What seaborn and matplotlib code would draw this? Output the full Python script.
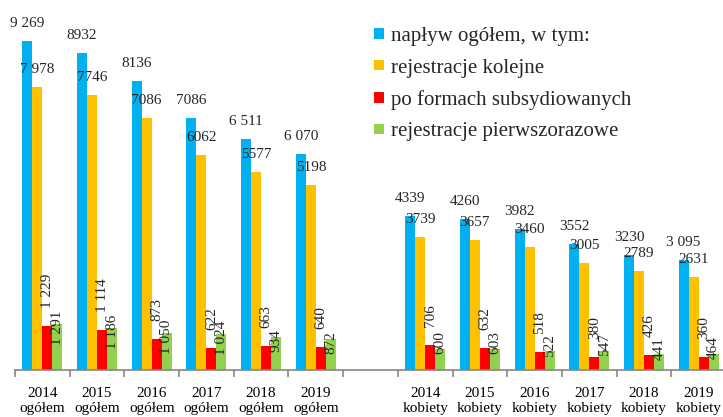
import numpy as np
import pandas as pd
import matplotlib
matplotlib.use("Agg")
import matplotlib.pyplot as plt
import seaborn as sns

years = ["2014", "2015", "2016", "2017", "2018", "2019"]
series = ["napływ ogółem, w tym:", "rejestracje kolejne",
          "po formach subsydiowanych", "rejestracje pierwszorazowe"]
colors = ["#00B0F0", "#FFC000", "#FF0000", "#92D050"]

ogolem_naplyw = [9269, 8932, 8136, 7086, 6511, 6070]
ogolem_kolejne = [7978, 7746, 7086, 6062, 5577, 5198]
ogolem_subs = [1229, 1114, 873, 622, 663, 640]
ogolem_pierw = [1291, 1186, 1050, 1024, 934, 872]
kob_naplyw = [4339, 4260, 3982, 3552, 3230, 3095]
kob_kolejne = [3739, 3657, 3460, 3005, 2789, 2631]
kob_subs = [706, 632, 518, 380, 426, 360]
kob_pierw = [600, 603, 522, 547, 441, 464]

ogolem_naplyw_lbl = ["9 269", "8932", "8136", "7086", "6 511", "6 070"]
ogolem_kolejne_lbl = ["7 978", "7746", "7086", "6062", "5577", "5198"]
ogolem_subs_lbl = ["1 229", "1 114", "873", "622", "663", "640"]
ogolem_pierw_lbl = ["1 291", "1 186", "1 050", "1 024", "934", "872"]
kob_naplyw_lbl = ["4339", "4260", "3982", "3552", "3230", "3 095"]
kob_kolejne_lbl = ["3739", "3657", "3460", "3005", "2789", "2631"]
kob_subs_lbl = ["706", "632", "518", "380", "426", "360"]
kob_pierw_lbl = ["600", "603", "522", "547", "441", "464"]

ogolem_cats = [f"{y}\nogółem" for y in years]
kob_cats = [f"{y}\nkobiety" for y in years]
order = ogolem_cats + [" "] + kob_cats

rows = []
groups = [
    (ogolem_cats, [ogolem_naplyw, ogolem_kolejne, ogolem_subs, ogolem_pierw],
     [ogolem_naplyw_lbl, ogolem_kolejne_lbl, ogolem_subs_lbl, ogolem_pierw_lbl]),
    (kob_cats, [kob_naplyw, kob_kolejne, kob_subs, kob_pierw],
     [kob_naplyw_lbl, kob_kolejne_lbl, kob_subs_lbl, kob_pierw_lbl]),
]
labels = {}
for cats, vals, lbls in groups:
    for s, v, l in zip(series, vals, lbls):
        for c, vv, ll in zip(cats, v, l):
            rows.append({"cat": c, "series": s, "value": vv})
            labels[(c, s)] = ll
df = pd.DataFrame(rows)

sns.set_theme(style="white")
plt.rcParams["font.family"] = ["Liberation Serif", "DejaVu Serif"]

W, H = 723, 417
fig = plt.figure(figsize=(W / 100, H / 100), dpi=100)
ax = fig.add_axes([15 / W, 47 / H, 711 / W, 370 / H])

sns.barplot(data=df, x="cat", y="value", hue="series", order=order,
            hue_order=series, palette=colors, width=0.73, gap=0,
            saturation=1, ax=ax, legend=True, linewidth=0)

ax.set_xlim(-0.5, 12.5)
ax.set_ylim(0, 10420)
ax.set_xlabel("")
ax.set_ylabel("")
ax.set_yticks([])
for sp in ["left", "right", "top"]:
    ax.spines[sp].set_visible(False)
ax.spines["bottom"].set_color("#868686")
ax.spines["bottom"].set_linewidth(1.2)

ax.set_xticks(range(len(order)))
ax.set_xticklabels(order, fontsize=11, color="black", linespacing=1.25)
ax.tick_params(axis="x", which="major", length=0, pad=12)
ax.set_xticks(np.arange(-0.5, 12.6, 1.0), minor=True)
ax.tick_params(axis="x", which="minor", length=5, width=1.2,
               color="#868686", direction="out", bottom=True)

for si, (s, cont) in enumerate(zip(series, ax.containers)):
    for bar in cont:
        h = bar.get_height()
        if not np.isfinite(h) or h == 0:
            continue
        xc = bar.get_x() + bar.get_width() / 2
        ci = int(round(xc))
        cat = order[ci]
        txt = labels.get((cat, s))
        if txt is None:
            continue
        if si < 2:
            ax.annotate(txt, (xc, h), xytext=(0, 11), textcoords="offset pixels",
                        ha="center", va="bottom", fontsize=11)
        elif si == 2:
            ax.annotate(txt, (xc, h), xytext=(0, 18), textcoords="offset pixels",
                        ha="center", va="bottom", fontsize=11, rotation=90)
        else:
            dy = -4 if ci < 6 else 6
            ax.annotate(txt, (xc, h), xytext=(0, dy), textcoords="offset pixels",
                        ha="center", va="center", fontsize=11, rotation=90)

leg = ax.legend(loc="upper left", bbox_to_anchor=(374 / W, 1 - 27 / H),
                bbox_transform=fig.transFigure, frameon=False, fontsize=15,
                handlelength=0.5, handleheight=0.4, handletextpad=0.3,
                labelspacing=0.6, borderpad=0, borderaxespad=0)

fig.savefig("out.png", dpi=100)
